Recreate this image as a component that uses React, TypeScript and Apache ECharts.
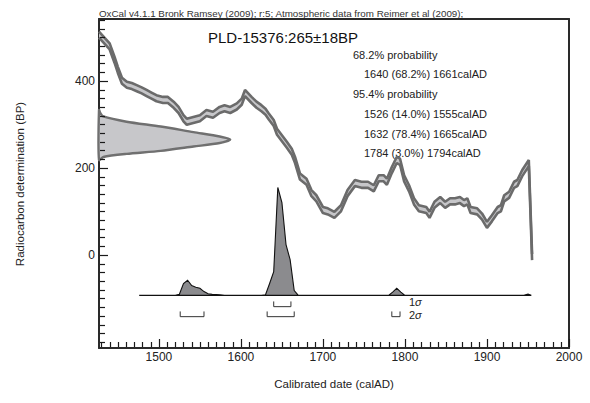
import React, { useEffect, useRef } from 'react';
import * as echarts from 'echarts';

const FONT = '"Liberation Sans", Arial, Helvetica, sans-serif';

// Calibration curve (IntCal09): calendar year AD and centre in BP
const curveYears = [1427, 1440, 1446, 1450, 1455, 1461, 1467, 1473, 1479, 1485, 1491, 1497, 1505, 1511, 1518, 1524, 1530, 1534, 1542, 1550, 1558, 1566, 1574, 1580, 1587, 1595, 1601, 1605, 1613, 1619, 1625, 1630, 1634, 1640, 1644, 1650, 1656, 1662, 1666, 1672, 1680, 1686, 1692, 1700, 1706, 1714, 1722, 1730, 1739, 1747, 1755, 1762, 1768, 1774, 1778, 1784, 1790, 1794, 1799, 1805, 1811, 1817, 1826, 1830, 1836, 1843, 1849, 1855, 1861, 1867, 1872, 1876, 1880, 1888, 1894, 1900, 1906, 1913, 1917, 1921, 1927, 1933, 1937, 1943, 1951, 1955];
const curveBP = [506, 479, 448, 425, 400, 391, 388, 383, 378, 372, 366, 360, 356, 356, 345, 333, 314, 306, 310, 314, 326, 322, 333, 337, 333, 341, 352, 372, 356, 345, 337, 329, 318, 303, 283, 268, 253, 237, 218, 180, 168, 142, 130, 103, 100, 92, 107, 142, 165, 161, 161, 153, 176, 176, 168, 195, 218, 214, 176, 153, 123, 107, 103, 92, 115, 126, 115, 123, 123, 126, 119, 123, 103, 100, 88, 69, 84, 103, 107, 130, 138, 161, 165, 188, 211, -5];
const curveSigma = 7;

// Radiocarbon determination 265 ± 18 BP, profile (relative density)
const dateBP = [333, 326, 318, 306, 295, 282, 272, 265, 257, 249, 239, 232, 225, 218];
const dateDensity = [0, 0.01, 0.033, 0.21, 0.47, 0.72, 0.92, 1, 0.92, 0.72, 0.47, 0.21, 0.033, 0];

// Calibrated posterior (relative probability)
const postYears = [1476, 1520, 1525, 1530, 1535, 1540, 1545, 1550, 1555, 1560, 1565, 1570, 1575, 1580, 1625, 1630, 1635, 1640, 1645, 1650, 1655, 1660, 1665, 1670, 1780, 1785, 1790, 1795, 1800, 1945, 1950, 1954];
const postProb = [0, 0, 0.01, 0.11, 0.14, 0.09, 0.075, 0.065, 0.035, 0.015, 0.01, 0.008, 0.004, 0, 0, 0.005, 0.11, 0.22, 1.0, 0.86, 0.47, 0.33, 0.045, 0, 0, 0.03, 0.065, 0.03, 0, 0, 0.012, 0];

// Ranges
const sigma1Ranges = [[1640, 1661]];
const sigma2Ranges = [[1526, 1555], [1632, 1665], [1784, 1794]];

// Axis ticks and labels
const xMajor = [1500, 1600, 1700, 1800, 1900, 2000];
const yMajor = [0, 200, 400];
const xMinor = [1430, 1440, 1450, 1460, 1470, 1480, 1490, 1500, 1510, 1520, 1530, 1540, 1550, 1560, 1570, 1580, 1590, 1600, 1610, 1620, 1630, 1640, 1650, 1660, 1670, 1680, 1690, 1700, 1710, 1720, 1730, 1740, 1750, 1760, 1770, 1780, 1790, 1800, 1810, 1820, 1830, 1840, 1850, 1860, 1870, 1880, 1890, 1900, 1910, 1920, 1930, 1940, 1950, 1960, 1970, 1980, 1990, 2000];
const yMinor = [-200, -180, -160, -140, -120, -100, -80, -60, -40, -20, 0, 20, 40, 60, 80, 100, 120, 140, 160, 180, 200, 220, 240, 260, 280, 300, 320, 340, 360, 380, 400, 420, 440, 460, 480, 500, 520, 540];

// Texts
const headerText = 'OxCal v4.1.1 Bronk Ramsey (2009); r:5; Atmospheric data from Reimer et al (2009);';
const titleText = 'PLD-15376:265\u00B118BP';
const statLines = [
  { text: '68.2% probability', indent: false },
  { text: '1640 (68.2%) 1661calAD', indent: true },
  { text: '95.4% probability', indent: false },
  { text: '1526 (14.0%) 1555calAD', indent: true },
  { text: '1632 (78.4%) 1665calAD', indent: true },
  { text: '1784 (3.0%) 1794calAD', indent: true },
];

const X_MIN = 1427;
const X_MAX = 2000;
const Y_MIN = -214;
const Y_MAX = 542;

const GAUSS_SCALE = 160; // years per unit density
const POST_BASE = -93;
const POST_SCALE = 248;

export default function App() {
  const ref = useRef<HTMLDivElement>(null);
  useEffect(() => {
    if (!ref.current) return;
    const chart = echarts.init(ref.current, null, { renderer: 'svg' });

    const tickColor = '#1a1a1a';
    const frameColor = '#2a2a2a';
    const frameLine = { show: true, onZero: false, lineStyle: { color: frameColor, width: 2 } };

    const option: any = {
      animation: false,
      backgroundColor: '#ffffff',
      textStyle: { fontFamily: FONT },
      grid: {
        left: 99, top: 19, right: 21, bottom: 55,
        show: false, containLabel: false, outerBoundsMode: 'none',
      },
      xAxis: [
        {
          type: 'value', min: X_MIN, max: X_MAX, position: 'bottom',
          axisLine: frameLine, splitLine: { show: false }, axisTick: { show: false },
          axisLabel: { customValues: xMajor, fontSize: 12, color: '#222', margin: 3, fontFamily: FONT, formatter: (v: number) => String(v) },
        },
        {
          type: 'value', min: X_MIN, max: X_MAX, position: 'top',
          axisLine: frameLine, splitLine: { show: false }, axisTick: { show: false }, axisLabel: { show: false },
        },
      ],
      yAxis: [
        {
          type: 'value', min: Y_MIN, max: Y_MAX, position: 'left',
          axisLine: frameLine, splitLine: { show: false }, axisTick: { show: false },
          axisLabel: { customValues: yMajor, fontSize: 12, color: '#222', margin: 4, fontFamily: FONT, formatter: (v: number) => String(v) },
        },
        {
          type: 'value', min: Y_MIN, max: Y_MAX, position: 'right',
          axisLine: frameLine, splitLine: { show: false }, axisTick: { show: false }, axisLabel: { show: false },
        },
      ],
      series: [
        {
          type: 'custom', silent: true, z: 2,
          data: dateBP.map((b, i) => [X_MIN + dateDensity[i] * GAUSS_SCALE, b]),
          renderItem: (params: any, api: any) => {
            if (params.dataIndex !== 0) return null;
            const pts = dateBP.map((b, i) => api.coord([X_MIN + dateDensity[i] * GAUSS_SCALE, b]));
            return {
              type: 'polygon',
              shape: { points: pts, smooth: 0.25 },
              style: { fill: '#c7c7ca', stroke: '#707070', lineWidth: 2.4 },
            };
          },
        },
        {
          type: 'custom', silent: true, z: 2,
          data: curveYears.map((y, i) => [y, curveBP[i]]),
          renderItem: (params: any, api: any) => {
            if (params.dataIndex !== 0) return null;
            const pts: number[][] = [];
            for (let i = 0; i < curveYears.length; i++) pts.push(api.coord([curveYears[i], curveBP[i] + curveSigma]));
            for (let i = curveYears.length - 1; i >= 0; i--) pts.push(api.coord([curveYears[i], curveBP[i] - curveSigma]));
            return { type: 'polygon', shape: { points: pts }, style: { fill: '#c6c6c9' } };
          },
        },
        {
          type: 'line', z: 3, showSymbol: false, silent: true,
          data: curveYears.map((y, i) => [y, curveBP[i] + curveSigma]),
          lineStyle: { color: '#6b6b6b', width: 2.6 },
        },
        {
          type: 'line', z: 3, showSymbol: false, silent: true,
          data: curveYears.map((y, i) => [y, curveBP[i] - curveSigma]),
          lineStyle: { color: '#6b6b6b', width: 2.6 },
        },
        {
          type: 'custom', silent: true, z: 4,
          data: postYears.map((y, i) => [y, POST_BASE + postProb[i] * POST_SCALE]),
          renderItem: (params: any, api: any) => {
            if (params.dataIndex !== 0) return null;
            const pts = postYears.map((y, i) => api.coord([y, POST_BASE + postProb[i] * POST_SCALE]));
            return {
              type: 'polygon',
              shape: { points: pts },
              style: { fill: '#8b8b8e', stroke: '#111', lineWidth: 1.1 },
            };
          },
        },
        {
          type: 'custom', silent: true, z: 4,
          data: sigma1Ranges,
          renderItem: (params: any, api: any) => {
            const a = api.coord([api.value(0), -107]);
            const b = api.coord([api.value(0), -119]);
            const c = api.coord([api.value(1), -119]);
            const d = api.coord([api.value(1), -107]);
            return { type: 'polyline', shape: { points: [a, b, c, d] }, style: { stroke: '#333', lineWidth: 1, fill: null } };
          },
        },
        {
          type: 'custom', silent: true, z: 4,
          data: sigma2Ranges,
          renderItem: (params: any, api: any) => {
            const a = api.coord([api.value(0), -130]);
            const b = api.coord([api.value(0), -142]);
            const c = api.coord([api.value(1), -142]);
            const d = api.coord([api.value(1), -130]);
            return { type: 'polyline', shape: { points: [a, b, c, d] }, style: { stroke: '#333', lineWidth: 1, fill: null } };
          },
        },
        // inside ticks of the x axis, placed through the axis scale
        {
          type: 'custom', silent: true, z: 4,
          data: xMinor.map((v) => [v, -200]),
          renderItem: (params: any, api: any) => {
            const v = api.value(0);
            const p = api.coord([v, Y_MIN]);
            const len = xMajor.indexOf(v) >= 0 ? 8 : 5;
            return { type: 'polyline', shape: { points: [[Math.round(p[0]) + 0.5, p[1] - 1], [Math.round(p[0]) + 0.5, p[1] - 1 - len]] }, style: { stroke: tickColor, lineWidth: 1.2, fill: null } };
          },
        },
        // inside ticks of the y axis
        {
          type: 'custom', silent: true, z: 4,
          data: yMinor.map((v) => [1440, v]),
          renderItem: (params: any, api: any) => {
            const v = api.value(1);
            const p = api.coord([X_MIN, v]);
            const len = yMajor.indexOf(v) >= 0 ? 8 : 5;
            return { type: 'polyline', shape: { points: [[p[0] + 1, Math.round(p[1]) + 0.5], [p[0] + 1 + len, Math.round(p[1]) + 0.5]] }, style: { stroke: tickColor, lineWidth: 1.2, fill: null } };
          },
        },
      ],
      graphic: [
        { type: 'text', x: 99, y: 13, style: { text: headerText, fontSize: 9.8, fill: '#333', fontFamily: FONT, verticalAlign: 'middle' } },
        { type: 'text', x: 208, y: 37, style: { text: titleText, fontSize: 15, fill: '#111', fontFamily: FONT, verticalAlign: 'middle' } },
        ...statLines.map((l, i) => ({
          type: 'text', x: l.indent ? 364 : 353, y: [55, 73.5, 93.5, 114, 133.5, 153][i],
          style: { text: l.text, fontSize: 11, fill: '#222', fontFamily: FONT, verticalAlign: 'middle' },
        })),
        {
          type: 'text', x: 409, y: 301.5,
          style: {
            text: '{a|1}{b|\u03C3}', verticalAlign: 'middle', fontFamily: FONT,
            rich: { a: { fontSize: 11, fill: '#222', fontFamily: FONT }, b: { fontSize: 11, fill: '#222', fontStyle: 'italic', fontFamily: FONT } },
          },
        },
        {
          type: 'text', x: 409, y: 314.5,
          style: {
            text: '{a|2}{b|\u03C3}', verticalAlign: 'middle', fontFamily: FONT,
            rich: { a: { fontSize: 11, fill: '#222', fontFamily: FONT }, b: { fontSize: 11, fill: '#222', fontStyle: 'italic', fontFamily: FONT } },
          },
        },
        {
          type: 'text', x: 334, y: 384,
          style: { text: 'Calibrated date (calAD)', fontSize: 11.5, fill: '#222', fontFamily: FONT, align: 'center', verticalAlign: 'middle' },
        },
        {
          type: 'text', x: 20, y: 184, rotation: Math.PI / 2,
          style: { text: 'Radiocarbon determination (BP)', fontSize: 11.5, fill: '#222', fontFamily: FONT, align: 'center', verticalAlign: 'middle' },
        },
      ],
    };

    chart.setOption(option);
    return () => chart.dispose();
  }, []);

  return <div ref={ref} style={{ position: 'fixed', left: 0, top: 0, width: 590, height: 403, background: '#fff' }} />;
}
